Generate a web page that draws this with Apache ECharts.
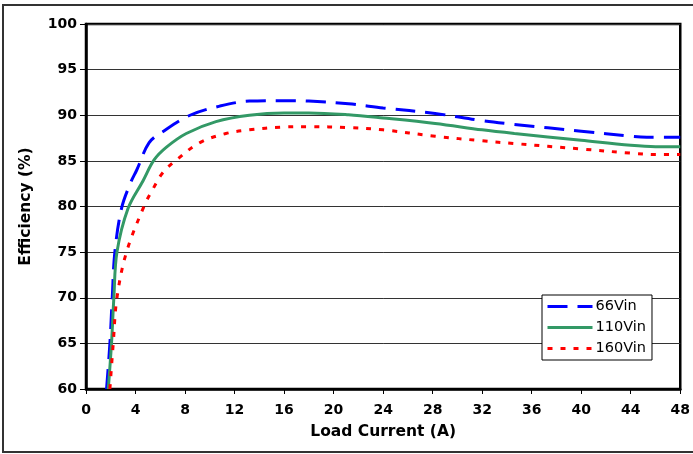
<!DOCTYPE html>
<html>
<head>
<meta charset="utf-8">
<script src="https://cdn.jsdelivr.net/npm/echarts@6/dist/echarts.min.js"></script>
<style>
  html, body { margin: 0; padding: 0; background: #fff; }
  #chart { width: 693px; height: 454px; }
</style>
</head>
<body>
<div id="chart"></div>
<script>
// Efficiency vs. load current, three input voltages
const seriesNames = ['66Vin', '110Vin', '160Vin'];

const current66 = [1.66, 1.93, 2.12, 2.33, 2.87, 3.6, 4.1, 5.1, 6.2, 8.4, 10.8, 13.2, 15.8, 18, 21.2, 24, 28.2, 32, 34.6, 40, 44, 45.3, 48];
const eff66     = [60, 65, 70, 75, 79.8, 82.6, 84.0, 87.0, 88.2, 90.0, 91.0, 91.55, 91.6, 91.55, 91.25, 90.8, 90.2, 89.4, 89.0, 88.25, 87.7, 87.6, 87.6];

const current110 = [1.8, 2.06, 2.25, 2.5, 3.4, 4.6, 5.5, 6.5, 8.1, 10.5, 13.2, 16, 18, 21.2, 24, 28.2, 32, 34.6, 40, 44, 46, 48];
const eff110     = [60, 65, 70, 75, 79.8, 82.8, 85.1, 86.5, 88.0, 89.3, 90.0, 90.25, 90.25, 90.05, 89.7, 89.1, 88.4, 88.0, 87.25, 86.7, 86.55, 86.55];

const current160 = [1.93, 2.2, 2.5, 3.27, 4.74, 5.36, 6.2, 7.3, 9.2, 11.3, 13.2, 15.8, 18, 21.2, 24, 28.2, 32, 34.6, 40, 44, 46, 48];
const eff160     = [60, 65, 70, 75, 80.2, 81.8, 83.7, 85.1, 87.0, 88.0, 88.4, 88.7, 88.75, 88.65, 88.4, 87.7, 87.2, 86.9, 86.3, 85.85, 85.7, 85.7];

const xTicks = [0, 4, 8, 12, 16, 20, 24, 28, 32, 36, 40, 44, 48];
const yTicks = [60, 65, 70, 75, 80, 85, 90, 95, 100];

const zip = (xs, ys) => xs.map((x, i) => [x, ys[i]]);

const font = 'DejaVu Sans';
const chart = echarts.init(document.getElementById('chart'));

chart.setOption({
  animation: false,
  backgroundColor: '#fff',
  graphic: [{
    type: 'rect',
    shape: { x: 3, y: 5, width: 720, height: 447 },
    style: { fill: 'none', stroke: '#333', lineWidth: 2 },
    silent: true, z: -1
  }],
  grid: {
    left: 86, top: 24, right: 10, bottom: 65,
    show: true, borderColor: '#000', borderWidth: 2.5, backgroundColor: 'transparent'
  },
  xAxis: {
    type: 'value',
    min: xTicks[0], max: xTicks[xTicks.length - 1], interval: 4,
    name: 'Load Current (A)', nameLocation: 'middle', nameGap: 35,
    nameTextStyle: { fontFamily: font, fontWeight: 'bold', fontSize: 15.5, color: '#000' },
    axisLine: { show: true, lineStyle: { color: '#000', width: 2.5 } },
    axisTick: { show: true, length: 5, lineStyle: { color: '#000', width: 1 } },
    axisLabel: { margin: 14, fontFamily: font, fontWeight: 'bold', fontSize: 14, color: '#000' },
    splitLine: { show: false }
  },
  yAxis: {
    type: 'value',
    min: yTicks[0], max: yTicks[yTicks.length - 1], interval: 5,
    name: 'Efficiency (%)', nameLocation: 'middle', nameGap: 52, nameRotate: 90,
    nameTextStyle: { fontFamily: font, fontWeight: 'bold', fontSize: 15.5, color: '#000' },
    axisLine: { show: true, lineStyle: { color: '#000', width: 2.5 } },
    axisTick: { show: true, length: 6, lineStyle: { color: '#000', width: 1 } },
    axisLabel: { margin: 9, fontFamily: font, fontWeight: 'bold', fontSize: 14, color: '#000' },
    splitLine: { show: true, lineStyle: { color: '#333', width: 1 } }
  },
  legend: {
    orient: 'vertical', left: 542, top: 295,
    backgroundColor: '#fff', borderColor: '#000', borderWidth: 1,
    padding: [4, 6, 4, 4], itemGap: 6, itemWidth: 45, itemHeight: 16,
    itemStyle: { opacity: 0 },
    lineStyle: { width: 3 },
    textStyle: { fontFamily: font, fontSize: 14.5, color: '#000', padding: [0, 0, 0, -2] },
    data: seriesNames
  },
  series: [
    {
      name: seriesNames[0], type: 'line', data: zip(current66, eff66),
      smooth: 0.35, showSymbol: false, symbol: 'none',
      lineStyle: { color: '#0000ff', width: 3, type: [20, 10] }, itemStyle: { color: '#0000ff' }
    },
    {
      name: seriesNames[1], type: 'line', data: zip(current110, eff110),
      smooth: 0.35, showSymbol: false, symbol: 'none',
      lineStyle: { color: '#339966', width: 3 }, itemStyle: { color: '#339966' }
    },
    {
      name: seriesNames[2], type: 'line', data: zip(current160, eff160),
      smooth: 0.35, showSymbol: false, symbol: 'none',
      lineStyle: { color: '#ff0000', width: 3, type: [5, 8] }, itemStyle: { color: '#ff0000' }
    }
  ]
});
</script>
</body>
</html>
